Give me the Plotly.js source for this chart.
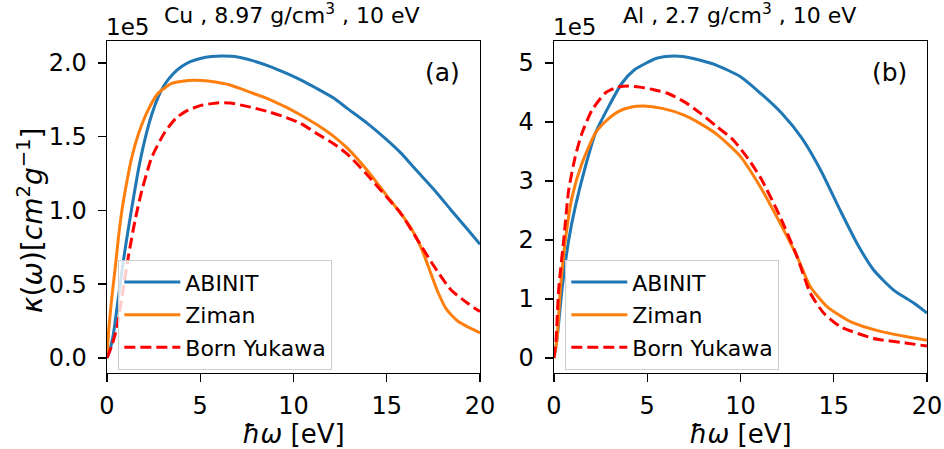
<!DOCTYPE html>
<html>
<head>
<meta charset="utf-8">
<script src="https://cdn.plot.ly/plotly-3.0.1.min.js"></script>
<style>html,body{margin:0;padding:0;background:#fff;}#chart{width:944px;height:449px;}</style>
</head>
<body>
<div id="chart"></div>
<script>
// ---- Panel (a): Cu, 8.97 g/cm3, 10 eV  (values in units of 1e5) ----
const cuAbinitX = [0, 0.15, 0.34, 0.6, 0.88, 1.15, 1.36, 1.69, 2.05, 2.4, 2.75, 3.1, 3.5, 4.0, 4.5, 5.0, 5.6, 6.2, 7.0, 7.8, 8.76, 9.6, 10.38, 11.2, 12.17, 12.9, 13.96, 14.9, 15.75, 16.6, 17.54, 18.4, 19.34, 20];
const cuAbinitY = [0, 0.05, 0.16, 0.40, 0.66, 0.88, 1.04, 1.28, 1.49, 1.65, 1.77, 1.855, 1.92, 1.975, 2.01, 2.03, 2.043, 2.046, 2.04, 2.015, 1.975, 1.93, 1.885, 1.83, 1.76, 1.69, 1.59, 1.49, 1.39, 1.27, 1.14, 1.01, 0.87, 0.77];

const cuZimanX = [0, 0.1, 0.25, 0.45, 0.6, 0.8, 1.0, 1.33, 1.69, 2.2, 2.75, 3.5, 4.6, 5.5, 6.6, 7.7, 8.76, 9.6, 10.38, 11.2, 12.17, 12.9, 13.96, 15.0, 15.75, 16.3, 16.8, 17.2, 17.73, 18.2, 18.8, 19.34, 20];
const cuZimanY = [0, 0.2, 0.4, 0.62, 0.8, 1.0, 1.15, 1.36, 1.52, 1.68, 1.795, 1.862, 1.882, 1.875, 1.85, 1.80, 1.75, 1.70, 1.647, 1.585, 1.50, 1.42, 1.27, 1.10, 0.98, 0.88, 0.76, 0.63, 0.45, 0.33, 0.25, 0.21, 0.17];

const cuBornX = [0, 0.25, 0.52, 0.86, 1.15, 1.5, 1.86, 2.4, 3.1, 3.7, 4.2, 5.0, 6.0, 6.6, 7.7, 8.76, 9.6, 10.38, 11.2, 12.17, 12.9, 13.96, 15.0, 15.75, 16.65, 17.54, 18.45, 19.34, 20];
const cuBornY = [0, 0.08, 0.2, 0.46, 0.69, 0.93, 1.13, 1.36, 1.53, 1.625, 1.67, 1.71, 1.73, 1.728, 1.70, 1.665, 1.63, 1.59, 1.525, 1.45, 1.38, 1.24, 1.09, 0.98, 0.80, 0.62, 0.46, 0.37, 0.314];

// ---- Panel (b): Al, 2.7 g/cm3, 10 eV  (values in units of 1e5) ----
const alAbinitX = [0, 0.16, 0.43, 0.79, 1.14, 1.68, 2.22, 2.93, 3.65, 4.3, 4.9, 5.5, 6.2, 6.9, 7.8, 8.73, 9.98, 11.06, 12.2, 13.3, 14.3, 15.3, 16.25, 17.14, 18.21, 19.29, 20];
const alAbinitY = [0, 0.31, 1.16, 2.0, 2.56, 3.24, 3.81, 4.26, 4.66, 4.88, 4.99, 5.08, 5.115, 5.11, 5.05, 4.96, 4.77, 4.49, 4.15, 3.72, 3.18, 2.53, 1.94, 1.49, 1.15, 0.93, 0.76];

const alZimanX = [0, 0.16, 0.34, 0.61, 0.97, 1.5, 2.22, 2.8, 3.47, 4.1, 4.8, 5.8, 6.94, 7.8, 8.73, 9.98, 11.06, 12.13, 13.03, 13.74, 14.64, 15.89, 17.5, 18.93, 20];
const alZimanY = [0, 0.31, 1.16, 2.0, 2.73, 3.3, 3.81, 4.02, 4.18, 4.25, 4.27, 4.23, 4.12, 3.98, 3.79, 3.42, 2.90, 2.28, 1.72, 1.21, 0.87, 0.615, 0.45, 0.36, 0.30];

const alBornX = [0, 0.11, 0.25, 0.52, 0.79, 1.14, 1.5, 2.04, 2.75, 3.4, 4.0, 4.6, 5.3, 6.05, 7.0, 7.84, 8.7, 9.62, 10.4, 11.1, 12.13, 13.03, 13.74, 14.46, 15.35, 17.14, 18.93, 20];
const alBornY = [0, 0.31, 1.16, 2.0, 2.85, 3.41, 3.81, 4.2, 4.49, 4.59, 4.61, 4.59, 4.55, 4.49, 4.34, 4.15, 3.93, 3.69, 3.38, 3.04, 2.39, 1.72, 1.10, 0.76, 0.53, 0.33, 0.25, 0.20];

const seriesNames = ["ABINIT", "Ziman", "Born Yukawa"];
const cuTicks = [0, 0.5, 1.0, 1.5, 2.0];
const alTicks = [0, 1, 2, 3, 4, 5];
const xTicks = [0, 5, 10, 15, 20];

const W = 944, H = 449;
const FONT = "DejaVu Sans";
const BLUE = "#1f77b4", ORANGE = "#ff7f0e", RED = "#ff0000";

function tr(x, y, name, color, dash, xa, ya, leg) {
  return {
    x: x, y: y, name: name, type: "scatter", mode: "lines",
    line: {color: color, width: 3, dash: dash, shape: "spline", smoothing: 0.6},
    xaxis: xa, yaxis: ya, legend: leg, legendgroup: leg + name
  };
}

const data = [
  tr(cuAbinitX, cuAbinitY, seriesNames[0], BLUE, "solid", "x", "y", "legend"),
  tr(cuZimanX, cuZimanY, seriesNames[1], ORANGE, "solid", "x", "y", "legend"),
  tr(cuBornX, cuBornY, seriesNames[2], RED, "11px,5px", "x", "y", "legend"),
  tr(alAbinitX, alAbinitY, seriesNames[0], BLUE, "solid", "x2", "y2", "legend2"),
  tr(alZimanX, alZimanY, seriesNames[1], ORANGE, "solid", "x2", "y2", "legend2"),
  tr(alBornX, alBornY, seriesNames[2], RED, "11px,5px", "x2", "y2", "legend2")
];

const yTop = 1 - 41 / H, yBot = 1 - 373 / H;

function xax(dom) {
  return {
    domain: dom, range: [0, 20], tickvals: xTicks, ticks: "outside", ticklen: 8, tickwidth: 1.4,
    tickcolor: "#000", showline: true, linecolor: "#000", linewidth: 1.4, mirror: true,
    showgrid: false, zeroline: false, tickfont: {family: FONT, size: 24, color: "#000"},
    ticklabelstandoff: 3,
    title: {text: "<i>ħω</i> [eV]", font: {family: FONT, size: 26, color: "#000"}, standoff: 3},
    automargin: false
  };
}
function yax(dom, range, ticks, fmt, anchor) {
  return {
    domain: dom, range: range, tickvals: ticks, tickformat: fmt, ticks: "outside", ticklen: 8, tickwidth: 1.4,
    tickcolor: "#000", showline: true, linecolor: "#000", linewidth: 1.4, mirror: true,
    showgrid: false, zeroline: false, tickfont: {family: FONT, size: 24, color: "#000"},
    ticklabelstandoff: 6, anchor: anchor, automargin: false
  };
}

const legendStyle = (x) => ({
  x: x, y: 1 - 260 / H, xanchor: "left", yanchor: "top",
  bgcolor: "rgba(255,255,255,0.8)", bordercolor: "#cccccc", borderwidth: 1.3,
  font: {family: FONT, size: 22, color: "#000"}, itemwidth: 56,
  traceorder: "grouped", tracegroupgap: 1
});

const layout = {
  width: W, height: H, margin: {l: 0, r: 0, t: 0, b: 0},
  paper_bgcolor: "#fff", plot_bgcolor: "#fff", showlegend: true,
  xaxis: xax([107 / W, 480 / W]),
  yaxis: yax([yBot, yTop], [-0.1023, 2.1483], cuTicks, ".1f", "x"),
  xaxis2: Object.assign(xax([554 / W, 927 / W]), {anchor: "y2"}),
  yaxis2: yax([yBot, yTop], [-0.256, 5.372], alTicks, "d", "x2"),
  legend: legendStyle(118 / W),
  legend2: legendStyle(565 / W),
  annotations: [
    {text: "<i>κ</i>(<i>ω</i>)[<i>cm</i><sup>2</sup><i>g</i><sup>−1</sup>]", xref: "paper", yref: "paper",
     x: 31 / W, y: 1 - 220 / H, xanchor: "center", yanchor: "middle", textangle: -90, showarrow: false,
     font: {family: FONT, size: 28, color: "#000"}},
    {text: "Cu , 8.97 g/cm<sup>3</sup> , 10 eV", xref: "paper", yref: "paper", x: 291.5 / W, y: 1 - 30 / H,
     xanchor: "center", yanchor: "bottom", showarrow: false, font: {family: FONT, size: 22, color: "#000"}},
    {text: "Al , 2.7 g/cm<sup>3</sup> , 10 eV", xref: "paper", yref: "paper", x: 739 / W, y: 1 - 30 / H,
     xanchor: "center", yanchor: "bottom", showarrow: false, font: {family: FONT, size: 22, color: "#000"}},
    {text: "1e5", xref: "paper", yref: "paper", x: 104 / W, y: 1 - 42 / H,
     xanchor: "left", yanchor: "bottom", showarrow: false, font: {family: FONT, size: 23, color: "#000"}},
    {text: "1e5", xref: "paper", yref: "paper", x: 551 / W, y: 1 - 42 / H,
     xanchor: "left", yanchor: "bottom", showarrow: false, font: {family: FONT, size: 23, color: "#000"}},
    {text: "(a)", xref: "paper", yref: "paper", x: 442 / W, y: 1 - 72 / H,
     xanchor: "center", yanchor: "middle", showarrow: false, font: {family: FONT, size: 25, color: "#000"}},
    {text: "(b)", xref: "paper", yref: "paper", x: 889 / W, y: 1 - 72 / H,
     xanchor: "center", yanchor: "middle", showarrow: false, font: {family: FONT, size: 25, color: "#000"}}
  ]
};

Plotly.newPlot("chart", data, layout, {staticPlot: true, displayModeBar: false});
</script>
</body>
</html>
